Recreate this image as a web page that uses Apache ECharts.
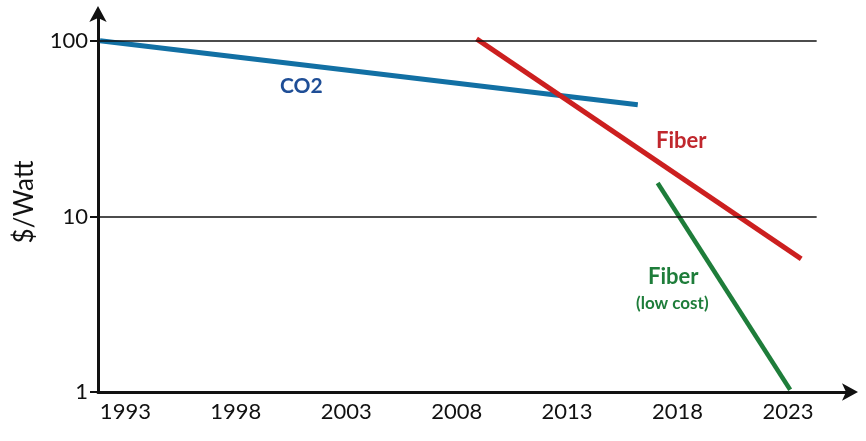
<!DOCTYPE html>
<html>
<head>
<meta charset="utf-8">
<script src="https://cdn.jsdelivr.net/npm/echarts@6/dist/echarts.min.js"></script>
<style>html,body{margin:0;padding:0;background:#fff}#c{width:866px;height:441px}</style>
</head>
<body>
<div id="c"></div>
<script>
const xTickLabels = [1993, 1998, 2003, 2008, 2013, 2018, 2023];
const yTickLabels = [1, 10, 100];
const gridLineValues = [10, 100];
const xRange = [1991.76, 2025.9];
const gridLineEnd = 2024.3;
const yRange = [1, 146];

const co2 = [[1991.85, 100], [2016.2, 43.2]];
const fiber = [[2008.9, 102.7], [2023.6, 5.73]];
const fiberLowCost = [[2017.1, 15.5], [2023.1, 1.03]];

const chart = echarts.init(document.getElementById('c'));
const font = 'Lato, "Open Sans", sans-serif';

chart.setOption({
  animation: false,
  grid: { left: 98, right: 14, top: 12, bottom: 49 },
  xAxis: {
    type: 'value',
    min: xRange[0], max: xRange[1],
    axisLine: { onZero: false, lineStyle: { color: '#111', width: 3 }, symbol: ['none', 'arrow'], symbolSize: [13, 16], symbolOffset: [0, 6] },
    axisTick: { show: false },
    splitLine: { show: false },
    axisLabel: { customValues: xTickLabels, formatter: v => String(Math.round(v)), color: '#111', fontSize: 22, fontFamily: font, margin: 9 }
  },
  yAxis: {
    type: 'log', logBase: 10,
    min: yRange[0], max: yRange[1],
    name: '$/Watt', nameLocation: 'middle', nameGap: 60, nameRotate: 90,
    nameTextStyle: { color: '#111', fontSize: 26, fontFamily: font },
    axisLine: { onZero: false, lineStyle: { color: '#111', width: 3 }, symbol: ['none', 'arrow'], symbolSize: [13, 16], symbolOffset: [-12, 6] },
    axisTick: { customValues: yTickLabels, length: 8, lineStyle: { color: '#111', width: 2 } },
    splitLine: { show: false },
    axisLabel: { customValues: yTickLabels, formatter: v => String(Math.round(v)), color: '#111', fontSize: 22, fontFamily: font, margin: 10 }
  },
  series: [
    {
      type: 'line', data: [], silent: true,
      markLine: {
        symbol: 'none', silent: true, label: { show: false },
        lineStyle: { color: '#111', width: 1.5, type: 'solid' },
        data: gridLineValues.map(v => [{ coord: [xRange[0], v] }, { coord: [gridLineEnd, v] }])
      }
    },
    { name: 'CO2', type: 'line', data: co2, symbol: 'none', lineStyle: { color: '#1270a4', width: 5 }, z: 3 },
    { name: 'Fiber', type: 'line', data: fiber, symbol: 'none', lineStyle: { color: '#cc1f1f', width: 5 }, z: 4 },
    { name: 'Fiber (low cost)', type: 'line', data: fiberLowCost, symbol: 'none', lineStyle: { color: '#1e7d3a', width: 4.5 }, z: 4 }
  ],
  graphic: [
    { type: 'text', left: 280, top: 76, style: { text: 'CO2', fill: '#1f4e96', font: 'bold 21px ' + font } },
    { type: 'text', left: 656, top: 130, style: { text: 'Fiber', fill: '#c0272d', font: 'bold 22px ' + font } },
    { type: 'text', left: 648, top: 266, style: { text: 'Fiber', fill: '#1e7d3a', font: 'bold 22px ' + font } },
    { type: 'text', left: 636, top: 295, style: { text: '(low cost)', fill: '#1e7d3a', font: 'bold 17px ' + font } }
  ]
});
</script>
</body>
</html>
